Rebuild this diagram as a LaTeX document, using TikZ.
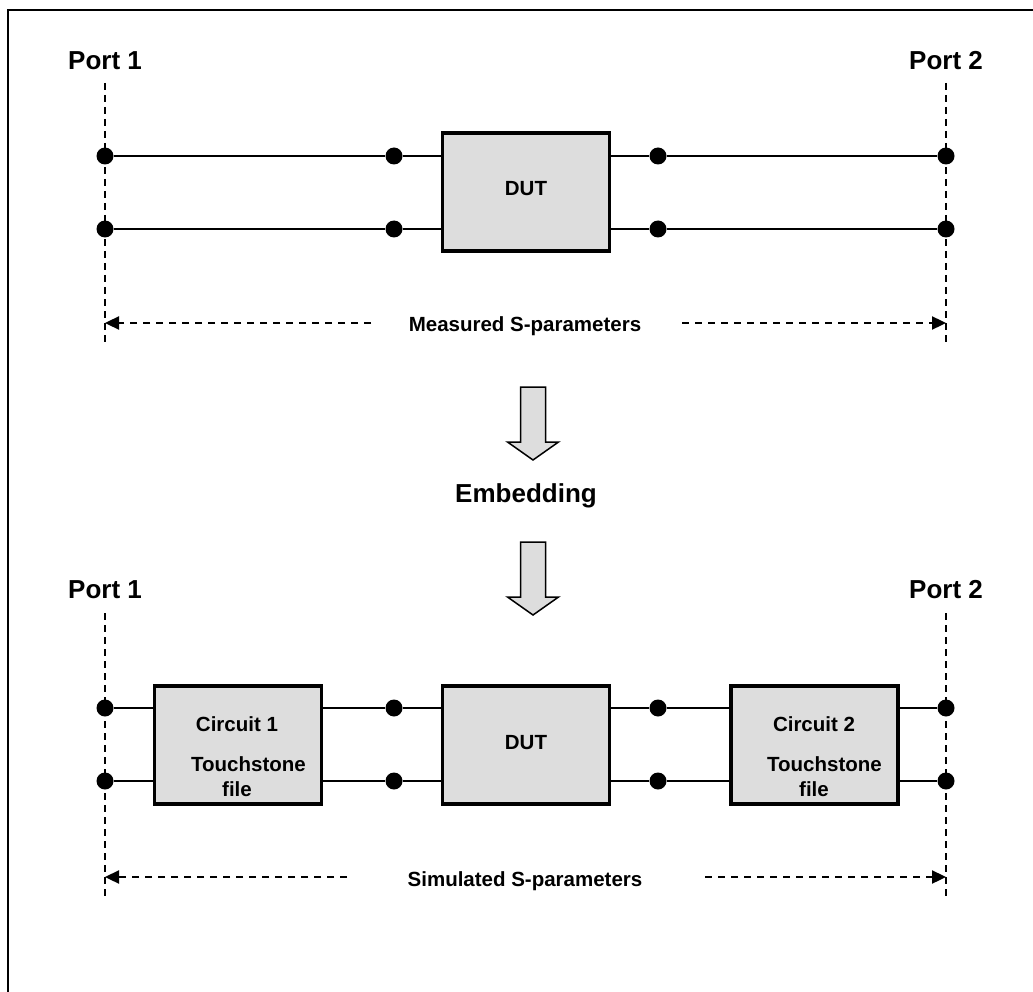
\documentclass[tikz,border=0pt]{standalone}
\usepackage{fontspec}
\setmainfont{Liberation Sans}
\usepackage{xcolor}
\definecolor{boxGray}{HTML}{DDDDDD}
\usepackage{tikz}
\usetikzlibrary{arrows.meta}

\begin{document}
\begin{tikzpicture}[x=1pt, y=-1pt, >={Triangle[length=14pt,width=13pt]},
  blk/.style={draw, line width=3.6pt, fill=boxGray, minimum width=167pt, minimum height=118pt, inner sep=0pt},
  dot/.style={circle, fill=black, inner sep=0pt, minimum size=17pt},
  wire/.style={line width=2.5pt},
  thinwire/.style={line width=1.7pt},
  portline/.style={line width=1.5pt, dash pattern=on 7pt off 5pt},
  measline/.style={->, line width=2.3pt, dash pattern=on 7pt off 6pt},
  biglbl/.style={anchor=base, font=\bfseries\fontsize{26}{31}\selectfont},
  lbl/.style={anchor=base, font=\bfseries\fontsize{20.5}{25}\selectfont}]
  \clip (0,0) rectangle (1033,992);
  % frame
  \draw[line width=2pt] (8,1000) -- (8,10) -- (1040,10);
  % measured: ports
  \node[biglbl] (port1m) at (105,70) {Port 1};
  \node[biglbl] (port2m) at (946,70) {Port 2};
  \coordinate (p1mtop) at (105,83);  \coordinate (p1mbot) at (105,343);
  \coordinate (p2mtop) at (946,83);  \coordinate (p2mbot) at (946,343);
  \draw[portline] (p1mtop) -- (p1mbot);
  \draw[portline] (p2mtop) -- (p2mbot);
  % measured: DUT and wires
  \node[blk] (dutm) at (526,192) {};
  \node[lbl] (dutmtxt) at (526,196) {DUT};
  \foreach \n/\x in {1/105,2/394,3/658,4/946} {
    \node[dot] (m\n u) at (\x,156) {};
    \node[dot] (m\n d) at (\x,229) {};
  }
  \foreach \r in {u,d} {
    \draw[wire] (m1\r) -- (m2\r) -- (dutm.west |- m2\r);
    \draw[wire] (dutm.east |- m3\r) -- (m3\r) -- (m4\r);
  }
  % measured: span
  \node[lbl] (meas) at (525,331) {Measured S-parameters};
  \coordinate (measL) at (371,323);
  \coordinate (measR) at (682,323);
  \draw[measline] (measL) -- (p1mbot |- measL);
  \draw[measline] (measR) -- (p2mbot |- measR);
  % embedding arrows
  \foreach \t in {387,542}
    \draw[line width=1.5pt, fill=boxGray] (520.5,\t) -- (545.5,\t) -- (545.5,\t+55) -- (558.5,\t+55)
      -- (533,\t+73) -- (507.5,\t+55) -- (520.5,\t+55) -- cycle;
  \node[biglbl] (embed) at (526,502) {Embedding};
  % simulated: ports
  \node[biglbl] (port1s) at (105,598) {Port 1};
  \node[biglbl] (port2s) at (946,598) {Port 2};
  \coordinate (p1stop) at (105,613);  \coordinate (p1sbot) at (105,900);
  \coordinate (p2stop) at (946,613);  \coordinate (p2sbot) at (946,900);
  \draw[portline] (p1stop) -- (p1sbot);
  \draw[portline] (p2stop) -- (p2sbot);
  % simulated: blocks
  \node[blk] (cir1) at (238,745) {};
  \node[blk] (duts) at (526,745) {};
  \node[blk] (cir2) at (814.5,745) {};
  \node[lbl] (cir1a) at (237,731) {Circuit 1};
  \node[lbl] (cir1b) at (248.5,771) {Touchstone};
  \node[lbl] (cir1c) at (237,796) {file};
  \node[lbl] (dutstxt) at (526,749) {DUT};
  \node[lbl] (cir2a) at (814,731) {Circuit 2};
  \node[lbl] (cir2b) at (824.5,771) {Touchstone};
  \node[lbl] (cir2c) at (814,796) {file};
  \foreach \n/\x in {1/105,2/394,3/658,4/946} {
    \node[dot] (s\n u) at (\x,708) {};
    \node[dot] (s\n d) at (\x,781) {};
  }
  \foreach \r in {u,d} {
    \draw[wire] (s1\r) -- (cir1.west |- s1\r);
    \draw[thinwire] (cir1.east |- s2\r) -- (s2\r);
    \draw[wire] (s2\r) -- (duts.west |- s2\r);
    \draw[wire] (duts.east |- s3\r) -- (s3\r);
    \draw[thinwire] (s3\r) -- (cir2.west |- s3\r);
    \draw[wire] (cir2.east |- s4\r) -- (s4\r);
  }
  % simulated: span
  \node[lbl] (sim) at (525,886) {Simulated S-parameters};
  \coordinate (simL) at (347,877);
  \coordinate (simR) at (705,877);
  \draw[measline] (simL) -- (p1sbot |- simL);
  \draw[measline] (simR) -- (p2sbot |- simR);
\end{tikzpicture}
\end{document}
